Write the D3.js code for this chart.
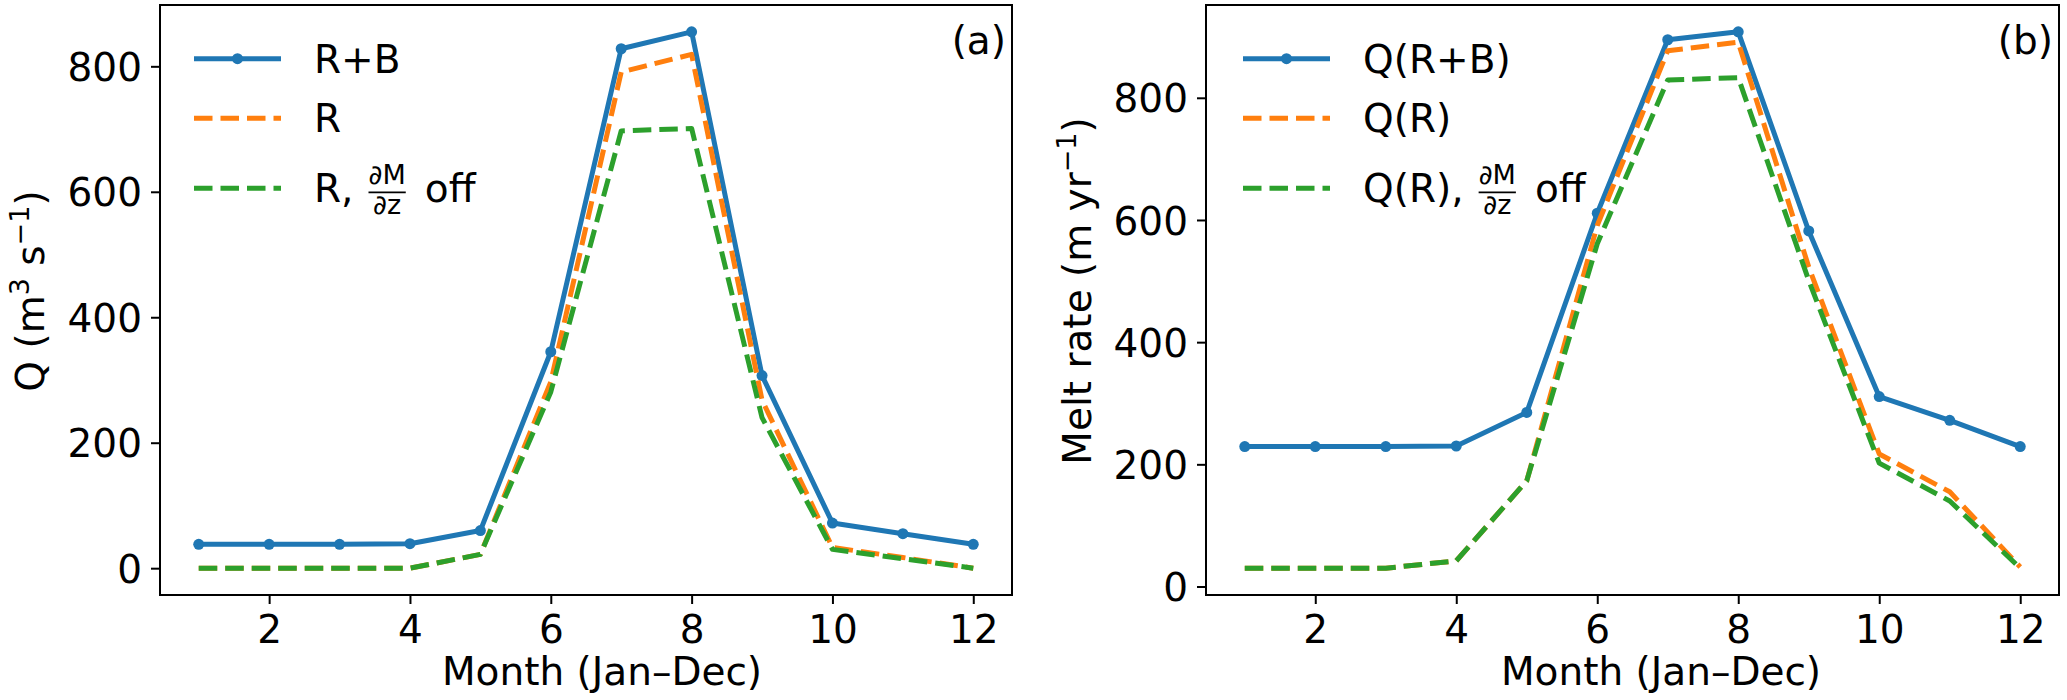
<!DOCTYPE html>
<html>
<head>
<meta charset="utf-8">
<script src="https://cdn.jsdelivr.net/npm/d3@7/dist/d3.min.js"></script>
<style>
  body { margin: 0; background: #fff; }
  text { font-family: "DejaVu Sans", sans-serif; fill: #000; }
</style>
</head>
<body>
<svg id="chart" width="2067" height="700"></svg>
<script>
// months on the x axis
var months = [1, 2, 3, 4, 5, 6, 7, 8, 9, 10, 11, 12];
var xTicks = [2, 4, 6, 8, 10, 12];
var yTicks = [0, 200, 400, 600, 800];

// panel (a) discharge
var qRB   = [38, 38, 38, 39, 60, 345, 828, 855, 307, 72, 55, 38];
var qR    = [0, 0, 0, 0, 22, 297, 791, 819, 268, 33, 17, 0];
var qRoff = [0, 0, 0, 0, 22, 281, 697, 701, 240, 30, 15, 0];

// panel (b) melt rate
var mRB   = [229, 229, 229, 230, 285, 611, 895, 908, 582, 311, 272, 229];
var mR    = [30, 30, 30, 42, 173, 591, 877, 891, 523, 217, 155, 32];
var mRoff = [30, 30, 30, 42, 173, 561, 829, 833, 501, 202, 140, 30];

var colors = ["#1f77b4", "#ff7f0e", "#2ca02c"];
var fs = 39;

var svg = d3.select("#chart");

function drawPanel(p) {
  var g = svg.append("g")
      .attr("transform", "translate(" + p.left + "," + p.top + ")");

  var x = d3.scaleLinear()
    .domain([0.45, 12.55])
    .range([0, p.width]);

  var all = d3.merge(p.series);
  var lo = d3.min(all), hi = d3.max(all), pad = (hi - lo) * 0.05;
  var y = d3.scaleLinear()
    .domain([lo - pad, hi + pad])
    .range([p.height, 0]);

  // X axis
  var xa = g.append("g")
      .attr("transform", "translate(0," + p.height + ")")
      .call(d3.axisBottom(x).tickValues(xTicks).tickSize(9).tickPadding(9));
  // Y axis
  var ya = g.append("g")
      .call(d3.axisLeft(y).tickValues(yTicks).tickSize(9).tickPadding(9));

  [xa, ya].forEach(function(a) {
    a.select(".domain").remove();
    a.selectAll("line").attr("stroke", "#000").attr("stroke-width", 2);
    a.selectAll("text").style("font-size", fs + "px")
      .style("font-family", "DejaVu Sans");
  });
  xa.selectAll("text").attr("dy", "30px");
  ya.selectAll("text").attr("dy", "0.36em");

  var line = d3.line()
    .x(function(d, i) { return x(months[i]); })
    .y(function(d) { return y(d); });

  p.series.forEach(function(s, k) {
    g.append("path")
      .datum(s)
      .attr("d", line)
      .attr("fill", "none")
      .attr("stroke", colors[k])
      .attr("stroke-width", 5)
      .attr("stroke-linejoin", "round")
      .attr("stroke-dasharray", k == 0 ? null : "18.5,8");
    if (k == 0) {
      g.selectAll(".dot")
        .data(s)
        .enter()
        .append("circle")
          .attr("cx", function(d, i) { return x(months[i]); })
          .attr("cy", function(d) { return y(d); })
          .attr("r", 5.5)
          .attr("fill", colors[0]);
    }
  });

  // frame
  g.append("rect")
    .attr("width", p.width)
    .attr("height", p.height)
    .attr("fill", "none")
    .attr("stroke", "#000")
    .attr("stroke-width", 2);

  // panel letter
  g.append("text")
    .attr("x", p.width - 6)
    .attr("y", 49)
    .attr("text-anchor", "end")
    .style("font-size", fs + "px")
    .text(p.letter);

  // x label
  svg.append("text")
    .attr("x", p.xlabelX)
    .attr("y", 685)
    .attr("text-anchor", "middle")
    .style("font-size", fs + "px")
    .text("Month (Jan\u2013Dec)");

  // y label
  var yl = svg.append("text")
    .attr("transform", "translate(" + p.ylabelX + ",291) rotate(-90)")
    .attr("text-anchor", "middle")
    .style("font-size", fs + "px");
  p.ylabel.forEach(function(part) {
    var t = yl.append("tspan").text(part[0]);
    if (part[1] == "sup") t.style("font-size", "27px").attr("dy", -15);
    if (part[1] == "down") t.attr("dy", 15);
  });

  // legend
  var lx = p.legendX - p.left;
  var rows = [58.7, 118.3, 188.3];
  rows.forEach(function(ry, k) {
    g.append("line")
      .attr("x1", lx).attr("x2", lx + 87)
      .attr("y1", ry - p.top).attr("y2", ry - p.top)
      .attr("stroke", colors[k])
      .attr("stroke-width", 5)
      .attr("stroke-dasharray", k == 0 ? null : "18.5,8");
    if (k == 0) {
      g.append("circle")
        .attr("cx", lx + 43.5).attr("cy", ry - p.top)
        .attr("r", 5.5).attr("fill", colors[0]);
    }
  });
  var tx = lx + 120;
  g.append("text").attr("x", tx).attr("y", rows[0] - p.top + 14)
    .style("font-size", fs + "px").text(p.names[0]);
  g.append("text").attr("x", tx).attr("y", rows[1] - p.top + 14)
    .style("font-size", fs + "px").text(p.names[1]);

  // third entry with the dM/dz fraction
  var base = rows[2] - p.top + 14;
  var t1 = g.append("text").attr("x", tx).attr("y", base)
    .style("font-size", fs + "px").text(p.names[2]);
  var fx = tx + t1.node().getComputedTextLength() + 15;
  var num = g.append("text").attr("y", base - 18)
    .style("font-size", "27px").text("\u2202M");
  var den = g.append("text").attr("y", base + 12)
    .style("font-size", "27px").text("\u2202z");
  var fw = Math.max(num.node().getComputedTextLength(), den.node().getComputedTextLength());
  num.attr("x", fx + fw / 2).attr("text-anchor", "middle");
  den.attr("x", fx + fw / 2).attr("text-anchor", "middle");
  g.append("line")
    .attr("x1", fx).attr("x2", fx + fw)
    .attr("y1", base - 10).attr("y2", base - 10)
    .attr("stroke", "#000").attr("stroke-width", 1.8);
  g.append("text").attr("x", fx + fw + 19).attr("y", base)
    .style("font-size", fs + "px").text("off");
}

drawPanel({
  left: 160, top: 5, width: 852, height: 590,
  series: [qRB, qR, qRoff],
  names: ["R+B", "R", "R,"],
  letter: "(a)",
  legendX: 194,
  xlabelX: 602,
  ylabelX: 44,
  ylabel: [["Q (m"], ["3", "sup"], [" s", "down"], ["\u22121", "sup"], [")", "down"]]
});

drawPanel({
  left: 1206, top: 5, width: 853, height: 590,
  series: [mRB, mR, mRoff],
  names: ["Q(R+B)", "Q(R)", "Q(R),"],
  letter: "(b)",
  legendX: 1243,
  xlabelX: 1661,
  ylabelX: 1091,
  ylabel: [["Melt rate (m yr"], ["\u22121", "sup"], [")", "down"]]
});
</script>
</body>
</html>
